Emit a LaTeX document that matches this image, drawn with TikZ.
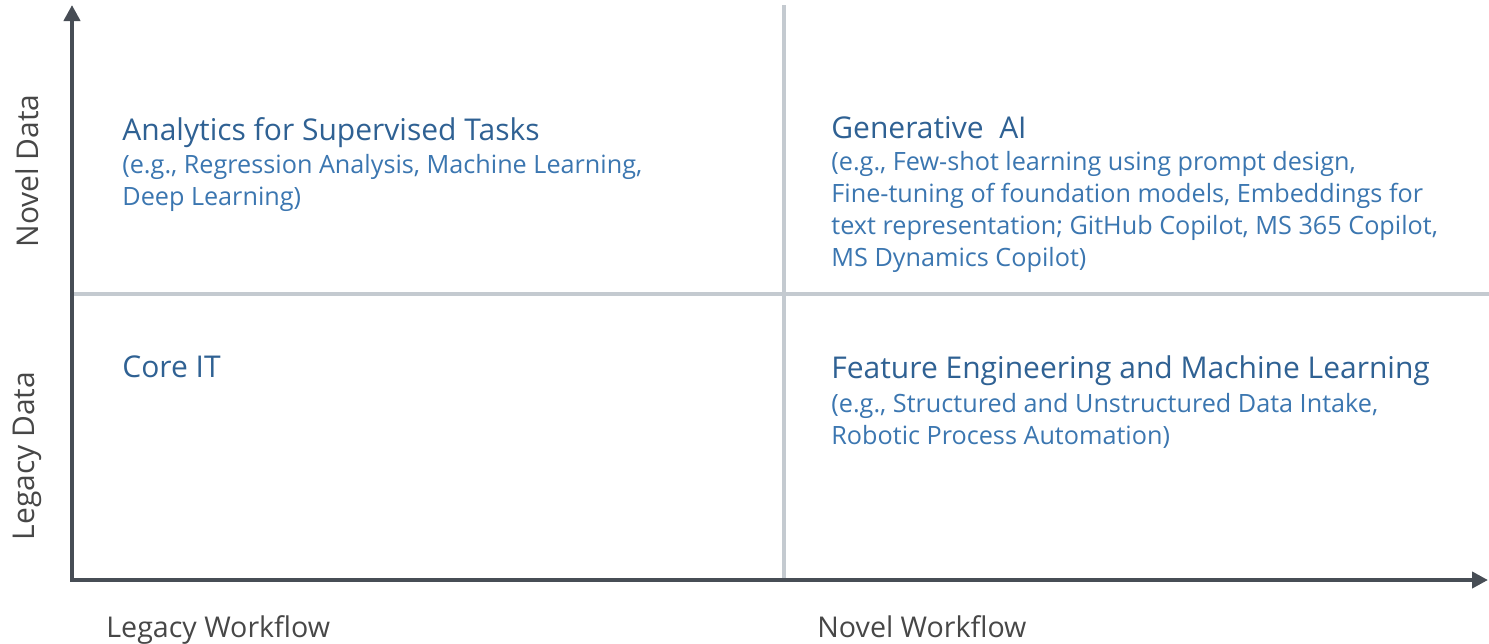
\documentclass[tikz,border=0pt]{standalone}
\usepackage{fontspec}
\setmainfont{Open Sans}
\usetikzlibrary{arrows.meta,positioning}
\definecolor{axisgray}{HTML}{474D55}
\definecolor{gridgray}{HTML}{C4CAD0}
\definecolor{headblue}{HTML}{2F6193}
\definecolor{bodyblue}{HTML}{3B76B0}
\definecolor{labelgray}{HTML}{474747}

\begin{document}
\begin{tikzpicture}[x=.5pt,y=-.5pt,>={Triangle[length=8pt,width=8pt]},
		head/.style={anchor=base west,inner sep=0,text=headblue,font=\fontsize{15}{18}\selectfont},
		body/.style={anchor=base west,inner sep=0,align=left,text=bodyblue,font=\fontsize{12.6}{16}\selectfont},
		axlabel/.style={inner sep=0,text=labelgray,font=\fontsize{14.3}{17}\selectfont}]
			\useasboundingbox (0,0) rectangle (1489,643);
			\coordinate (origin) at (72,580);
			\coordinate (ytip) at (72,5);
			\coordinate (xtip) at (1488,580);
			\coordinate (midtop) at (784,5);
			\coordinate (midbot) at (784,580);
			\coordinate (midleft) at (72,294);
			\coordinate (midright) at (1489,294);
			\draw[gridgray,line width=2pt] (midtop) -- (midbot);
			\draw[gridgray,line width=2pt] (midleft) -- (midright);
			\draw[axisgray,line width=2pt,<->] (ytip) |- (xtip);
			% multi-line nodes sit on the baseline of their last line
			\node[head] (sup) at (122,140) {Analytics for Supervised Tasks};
			\node[body] (supex) at (122,205) {(e.g., Regression Analysis, Machine Learning,\\Deep Learning)};
			\node[head] (gen) at (831,138) {Generative\ \ AI};
			\node[body] (genex) at (831,266) {(e.g., Few-shot learning using prompt design,\\Fine-tuning of foundation models, Embeddings for\\text representation; GitHub Copilot, MS 365 Copilot,\\MS Dynamics Copilot)};
			\node[head] (core) at (122,377) {Core IT};
			\node[head] (feat) at (831,378) {Feature Engineering and Machine Learning};
			\node[body] (featex) at (831,444) {(e.g., Structured and Unstructured Data Intake,\\Robotic Process Automation)};
			\node[axlabel,anchor=base west] (legwf) at (106,637) {Legacy Workflow};
			\node[axlabel,anchor=base west] (novwf) at (817,637) {Novel Workflow};
			\node[axlabel,rotate=90,font=\fontsize{15}{18}\selectfont] (novdata) at (27,171) {Novel Data};
			\node[axlabel,rotate=90,font=\fontsize{15}{18}\selectfont] (legdata) at (27,456) {Legacy Data};
		\end{tikzpicture}
\end{document}
